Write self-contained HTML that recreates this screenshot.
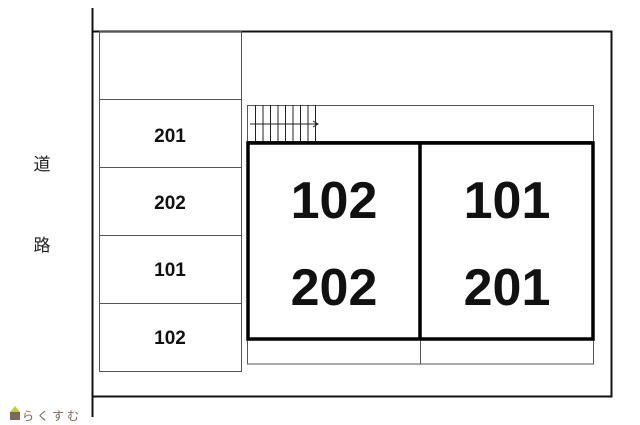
<!DOCTYPE html>
<html><head><meta charset="utf-8"><style>
html,body{margin:0;padding:0;background:#fff;width:640px;height:425px;overflow:hidden}
text{font-family:"Liberation Sans","Noto Sans CJK JP",sans-serif}
</style></head><body>
<svg width="640" height="425" viewBox="0 0 640 425" xmlns="http://www.w3.org/2000/svg">
<g fill="none" stroke="#111">
<line x1="92.5" y1="8" x2="92.5" y2="417" stroke-width="2"/>
<polyline points="92,31.5 611.5,31.5 611.5,396.5 92,396.5" stroke-width="2"/>
</g>
<g fill="none" stroke="#555" stroke-width="1">
<rect x="99.5" y="31.5" width="142" height="340"/>
<line x1="99" y1="99.5" x2="242" y2="99.5"/>
<line x1="99" y1="167.5" x2="242" y2="167.5"/>
<line x1="99" y1="235.5" x2="242" y2="235.5"/>
<line x1="99" y1="303.5" x2="242" y2="303.5"/>
<rect x="247.5" y="105.5" width="346" height="36"/>
<rect x="247.5" y="340" width="346" height="24"/>
<line x1="420.5" y1="340" x2="420.5" y2="364"/>
</g>
<g stroke="#222" stroke-width="1">
<line x1="255.5" y1="105" x2="255.5" y2="141"/><line x1="263" y1="105" x2="263" y2="141"/>
<line x1="270.5" y1="105" x2="270.5" y2="141"/><line x1="278" y1="105" x2="278" y2="141"/>
<line x1="285.5" y1="105" x2="285.5" y2="141"/><line x1="293" y1="105" x2="293" y2="141"/>
<line x1="300.5" y1="105" x2="300.5" y2="141"/><line x1="308" y1="105" x2="308" y2="141"/>
<line x1="315.5" y1="105" x2="315.5" y2="141"/>
<line x1="250" y1="124" x2="318" y2="124"/>
<polyline points="313,121 318,124 313,127" fill="none"/>
</g>
<rect x="248" y="143" width="345" height="196" fill="none" stroke="#000" stroke-width="3.5"/>
<line x1="420" y1="143" x2="420" y2="339" stroke="#000" stroke-width="3.5"/>
<g font-weight="bold" fill="#111" text-anchor="middle">
<text x="170" y="142" font-size="19">201</text>
<text x="170" y="209" font-size="19">202</text>
<text x="170" y="276" font-size="19">101</text>
<text x="170" y="344" font-size="19">102</text>
<text x="334" y="218" font-size="52">102</text>
<text x="334" y="305" font-size="52">202</text>
<text x="507" y="218" font-size="52">101</text>
<text x="507" y="305" font-size="52">201</text>
</g>
<text x="42" y="170" font-size="17" text-anchor="middle" fill="#222">道</text>
<text x="42" y="251" font-size="17" text-anchor="middle" fill="#222">路</text>
<polygon points="10,412 15,406 20,412" fill="#b8d23c"/>
<rect x="10" y="412" width="10" height="8" fill="#7a6a5a"/>
<text x="22" y="420" font-size="12" fill="#7a6a5a" letter-spacing="3">らくすむ</text>
</svg>
</body></html>
